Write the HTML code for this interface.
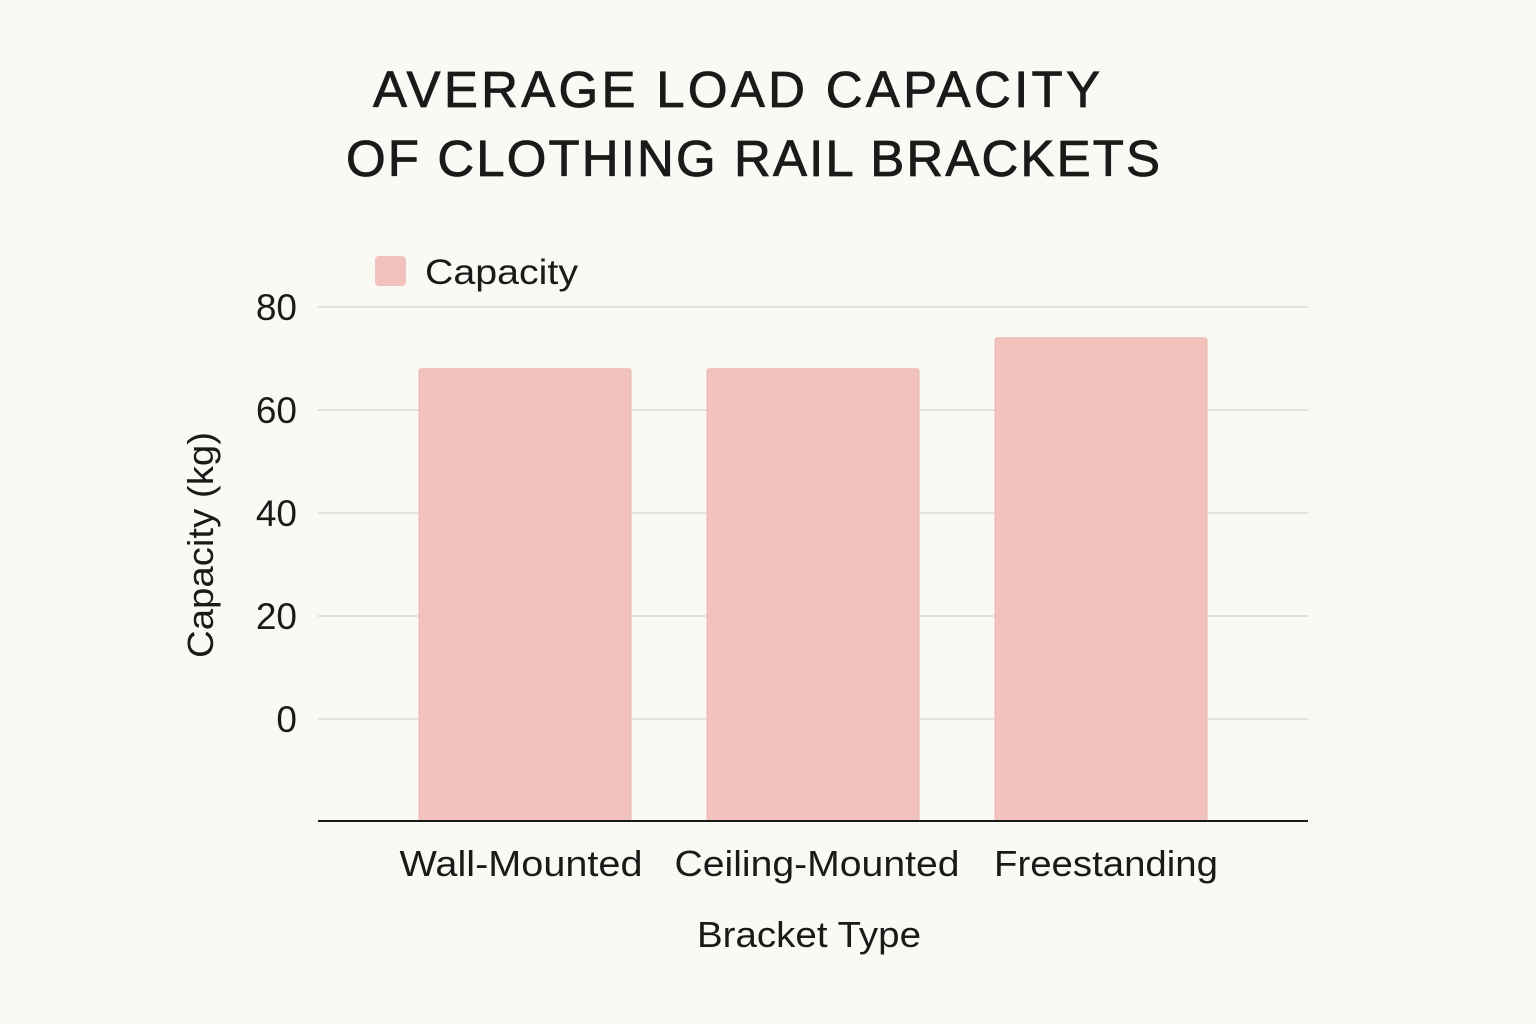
<!DOCTYPE html>
<html><head><meta charset="utf-8"><style>
body{margin:0;background:#fbf9f4;}
svg{display:block;font-family:"Liberation Sans",sans-serif;}
</style></head><body>
<svg id="chart" width="1536" height="1024" viewBox="0 0 1536 1024">
<rect width="1536" height="1024" fill="#fbf9f4"/>
<text x="373" y="107" font-size="51" fill="#1a1a1a" stroke="#1a1a1a" stroke-width="0.8" textLength="727" lengthAdjust="spacing">AVERAGE LOAD CAPACITY</text>
<text x="346" y="176" font-size="51" fill="#1a1a1a" stroke="#1a1a1a" stroke-width="0.8" textLength="814" lengthAdjust="spacing">OF CLOTHING RAIL BRACKETS</text>
<rect x="375" y="256" width="31" height="30" rx="4" fill="#f2c3bd"/>
<text x="425" y="284" font-size="35" fill="#1a1a1a" textLength="153" lengthAdjust="spacingAndGlyphs">Capacity</text>
<g id="grid"></g>
<g id="bars"></g>
<line x1="318" x2="1308" y1="821" y2="821" stroke="#1a1a1a" stroke-width="2"/>
<text transform="translate(213,545) rotate(-90)" text-anchor="middle" font-size="36" fill="#1a1a1a" textLength="226" lengthAdjust="spacingAndGlyphs">Capacity (kg)</text>
<text x="697" y="947" font-size="36" fill="#1a1a1a" textLength="224" lengthAdjust="spacingAndGlyphs">Bracket Type</text>
</svg>
<script>
const categories = ["Wall-Mounted","Ceiling-Mounted","Freestanding"];
const capacities = [68,68,74];
const yTicks = [0,20,40,60,80];
const labelWidths = [243,285,224];
const NS="http://www.w3.org/2000/svg";
const y0=719, pxPerUnit=5.15;
function yScale(v){return y0 - v*pxPerUnit;}
const bandStart=381, bandW=288, barW=212;
function xCenter(i){return bandStart + bandW*(i+0.5);}
const grid=document.getElementById('grid');
yTicks.forEach(t=>{
  const l=document.createElementNS(NS,'line');
  l.setAttribute('x1',318);l.setAttribute('x2',1308);
  l.setAttribute('y1',yScale(t));l.setAttribute('y2',yScale(t));
  l.setAttribute('stroke','#dcdad5');l.setAttribute('stroke-width','1.5');
  
  
  grid.appendChild(l);
  const tx=document.createElementNS(NS,'text');
  tx.setAttribute('x',297);tx.setAttribute('y',yScale(t)+13);
  tx.setAttribute('text-anchor','end');tx.setAttribute('font-size','37');tx.setAttribute('fill','#1a1a1a');
  tx.textContent=t;
  
  
  grid.appendChild(tx);
});
const bars=document.getElementById('bars');
const baseY=821;
const labelCenters=[521,817,1106];
categories.forEach((c,i)=>{
  const top=yScale(capacities[i]);
  const r=document.createElementNS(NS,'rect');
  r.setAttribute('x',xCenter(i)-barW/2);r.setAttribute('y',top);
  r.setAttribute('width',barW);r.setAttribute('height',baseY-top);
  r.setAttribute('rx',2);
  r.setAttribute('fill','#f2c3bd');r.setAttribute('stroke','#ebb5ae');r.setAttribute('stroke-width','1');
  
  
  bars.appendChild(r);
  const tx=document.createElementNS(NS,'text');
  tx.setAttribute('x',labelCenters[i]-labelWidths[i]/2);tx.setAttribute('y',876);
  tx.setAttribute('font-size','36');tx.setAttribute('fill','#1a1a1a');
  tx.setAttribute('textLength',labelWidths[i]);tx.setAttribute('lengthAdjust','spacingAndGlyphs');
  tx.textContent=c;
  
  
  bars.appendChild(tx);
});
</script>
</body></html>
